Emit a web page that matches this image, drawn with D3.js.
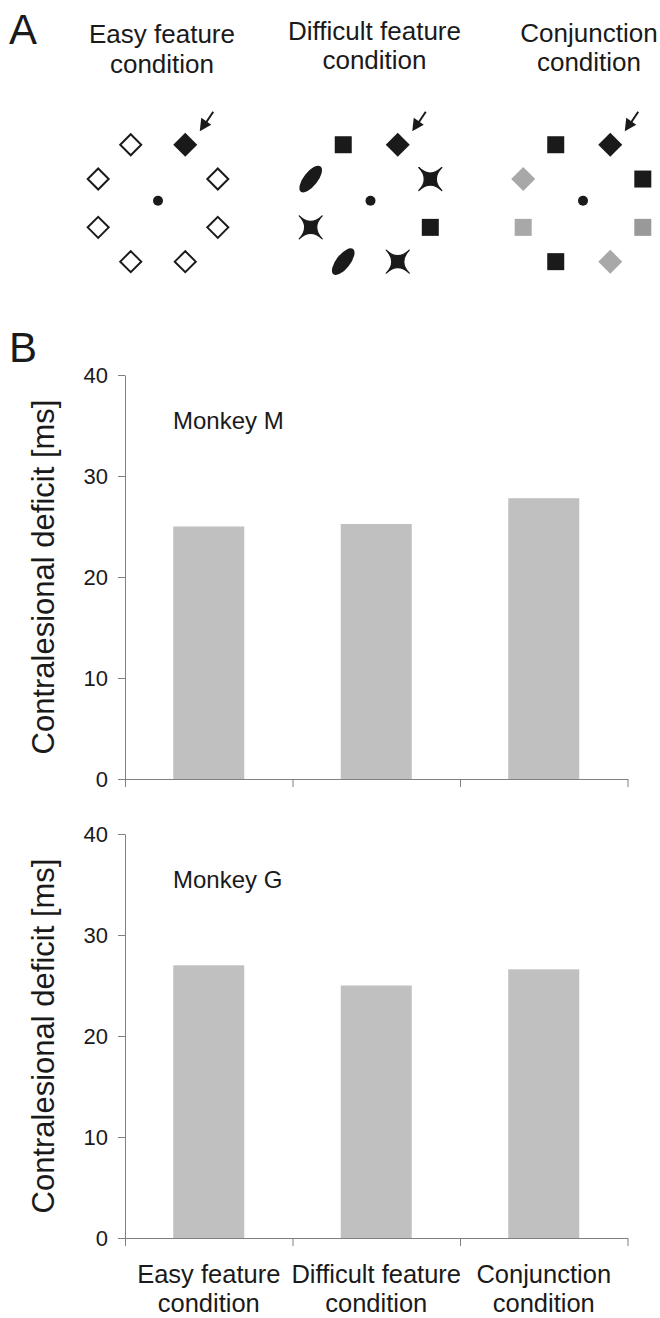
<!DOCTYPE html>
<html>
<head>
<meta charset="utf-8">
<script src="https://cdn.jsdelivr.net/npm/d3@7"></script>
<style>
  html, body { margin: 0; padding: 0; background: #fff; }
  svg text { font-family: "Liberation Sans", Arial, Helvetica, sans-serif; fill: #1a1a1a; }
</style>
</head>
<body>
<div id="fig"></div>
<script>
// ── Data ──
const CONDITIONS = ["Easy feature condition", "Difficult feature condition", "Conjunction condition"];
const CONDITION_LINES = [["Easy feature", "condition"], ["Difficult feature", "condition"], ["Conjunction", "condition"]];

const MONKEYS  = ["Monkey M", "Monkey G"];
const MONKEY_M = [25.0, 25.25, 27.8];
const MONKEY_G = [27.0, 25.0, 26.6];
const Y_TICKS  = [0, 10, 20, 30, 40];
const Y_LABEL  = "Contralesional deficit [ms]";

// Search arrays (panel A): item locations on the ring, in degrees, and item codes
const STIM_ANGLES = [65, 115, 158, 22, 202, 338, 245, 295];
const EASY_ITEMS  = ["T", "od", "od", "od", "od", "od", "od", "od"];
const DIFF_ITEMS  = ["T", "sq", "el", "x", "x", "sq", "el", "x"];
const CONJ_ITEMS  = ["T", "sq", "gd", "sq", "gs", "gs2", "sq", "gd"];
const ARRAYS = [EASY_ITEMS, DIFF_ITEMS, CONJ_ITEMS];

// ── Layout ──
const W = 660, H = 1318;
const BLACK = "#1a1a1a";
const AXIS  = "#808080";
const BAR   = "#c0c0c0";

const svg = d3.select("#fig").append("svg")
  .attr("width", W).attr("height", H);

// ─────────────────────────────────────────────────────────
// Panel A
// ─────────────────────────────────────────────────────────
svg.append("text").attr("x", 9).attr("y", 43.5)
  .style("font-size", "42px").text("A");

const arrX = d3.scalePoint().domain(CONDITIONS).range([158, 583]);
const DOT_Y = 200.7, RING_CY = 203.2, RING_R = 64.5;

// titles
CONDITIONS.forEach((c, i) => {
  const tx = arrX(c) + 4 + (i === 2 ? 2 : 0);
  const t = svg.append("text").attr("text-anchor", "middle").style("font-size", "26px");
  const base = [43.3, 39.5, 41.7][i];
  CONDITION_LINES[i].forEach((line, j) => {
    t.append("tspan").attr("x", tx).attr("y", base + j * 29.5).text(line);
  });
});

// four-pointed star (diagonal arms, concave sides)
const crossPath = (r, c) =>
  `M${-r},${-r} Q0,${-c} ${r},${-r} Q${c},0 ${r},${r} Q0,${c} ${-r},${r} Q${-c},0 ${-r},${-r} Z`;

function drawItem(g, code) {
  switch (code) {
    case "T":
      g.append("path").attr("d", "M0,-12 L12,0 L0,12 L-12,0 Z").attr("fill", BLACK);
      break;
    case "od":
      g.append("path").attr("d", "M0,-10.5 L10.5,0 L0,10.5 L-10.5,0 Z")
        .attr("fill", "#fff").attr("stroke", BLACK).attr("stroke-width", 2);
      break;
    case "sq":
      g.append("rect").attr("x", -8.5).attr("y", -8.5).attr("width", 17).attr("height", 17).attr("fill", BLACK);
      break;
    case "gs":
      g.append("rect").attr("x", -8.5).attr("y", -8.5).attr("width", 17).attr("height", 17).attr("fill", "#a8a8a8");
      break;
    case "gs2":
      g.append("rect").attr("x", -8.5).attr("y", -8.5).attr("width", 17).attr("height", 17).attr("fill", "#999");
      break;
    case "gd":
      g.append("path").attr("d", "M0,-12 L12,0 L0,12 L-12,0 Z").attr("fill", "#a8a8a8");
      break;
    case "el":
      g.append("ellipse").attr("rx", 16).attr("ry", 7).attr("transform", "rotate(-52)").attr("fill", BLACK);
      break;
    case "x":
      g.append("path").attr("d", crossPath(11.5, 0.5))
        .attr("fill", BLACK).attr("stroke", BLACK).attr("stroke-width", 1.2).attr("stroke-linejoin", "round");
      break;
  }
}

ARRAYS.forEach((items, i) => {
  const cx = arrX(CONDITIONS[i]);
  const grp = svg.append("g");
  grp.append("circle").attr("cx", cx).attr("cy", DOT_Y).attr("r", 5).attr("fill", BLACK);
  items.forEach((code, k) => {
    const a = STIM_ANGLES[k] * Math.PI / 180;
    const x = cx + RING_R * Math.cos(a);
    const y = RING_CY - RING_R * Math.sin(a);
    const g = grp.append("g").attr("transform", `translate(${x},${y})`);
    drawItem(g, code);
    if (code === "T") {
      // arrow pointing at the target
      g.append("line").attr("x1", 28).attr("y1", -33).attr("x2", 20).attr("y2", -21)
        .attr("stroke", BLACK).attr("stroke-width", 2);
      g.append("path").attr("d", "M14.5,-13.5 L16,-27 L26,-20 Z").attr("fill", BLACK);
    }
  });
});

// ─────────────────────────────────────────────────────────
// Panel B
// ─────────────────────────────────────────────────────────
svg.append("text").attr("x", 9).attr("y", 362)
  .style("font-size", "42px").text("B");

const LEFT = 125, RIGHT = 627.5;
const xBand = d3.scaleBand().domain(CONDITIONS)
  .range([LEFT, RIGHT]).paddingInner(0.576).paddingOuter(0.288);
const xEdges = d3.scaleLinear().domain([0, CONDITIONS.length]).range([LEFT, RIGHT]);

const PANELS = [
  { name: MONKEYS[0], values: MONKEY_M, y0: 779, y1: 375 },
  { name: MONKEYS[1], values: MONKEY_G, y0: 1238, y1: 834 },
];

PANELS.forEach((p, pi) => {
  const y = d3.scaleLinear().domain([0, 40]).range([p.y0, p.y1]);
  const g = svg.append("g");

  // bars
  g.selectAll("rect.bar").data(p.values).join("rect")
    .attr("class", "bar")
    .attr("x", (d, i) => xBand(CONDITIONS[i]))
    .attr("width", xBand.bandwidth())
    .attr("y", d => y(d))
    .attr("height", d => y(0) - y(d))
    .attr("fill", BAR);

  // y axis
  const yAx = g.append("g").attr("transform", `translate(${LEFT},0)`)
    .call(d3.axisLeft(y).tickValues(Y_TICKS).tickSize(7).tickSizeOuter(0).tickPadding(10));
  yAx.select(".domain").attr("stroke", AXIS);
  yAx.selectAll(".tick line").attr("stroke", AXIS);
  yAx.selectAll(".tick text")
    .style("font-size", "22px").style("font-family", "'Liberation Sans', Arial, sans-serif")
    .attr("fill", BLACK);

  // x axis with ticks at category boundaries
  const xAx = g.append("g").attr("transform", `translate(0,${p.y0})`)
    .call(d3.axisBottom(xEdges).tickValues(d3.range(CONDITIONS.length + 1))
      .tickFormat("").tickSize(8).tickSizeOuter(0));
  xAx.select(".domain").attr("stroke", AXIS);
  xAx.selectAll(".tick line").attr("stroke", AXIS);

  // monkey label
  g.append("text").attr("x", 173).attr("y", y(40) + 54)
    .style("font-size", "24px").text(p.name);

  // y label
  g.append("text")
    .attr("transform", "rotate(-90)")
    .attr("x", -(p.y0 + p.y1) / 2).attr("y", 53.5)
    .attr("text-anchor", "middle")
    .style("font-size", "31px")
    .text(Y_LABEL);

  // category labels under the last panel
  if (pi === PANELS.length - 1) {
    CONDITIONS.forEach((c, i) => {
      const t = g.append("text").attr("text-anchor", "middle").style("font-size", "25.5px");
      CONDITION_LINES[i].forEach((line, j) => {
        t.append("tspan").attr("x", xBand(c) + xBand.bandwidth() / 2)
          .attr("y", p.y0 + 45 + j * 29).text(line);
      });
    });
  }
});
</script>
</body>
</html>
